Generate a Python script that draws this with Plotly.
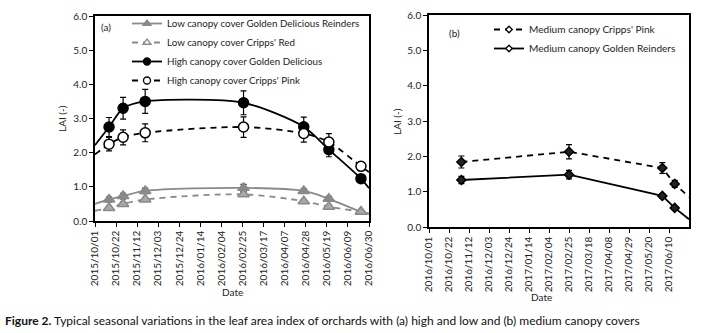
import plotly.graph_objects as go
import pandas as pd

W, H = 701, 333

# ---------------- data: panel (a) ----------------
dates_a = ["2015-10-15", "2015-10-29", "2015-11-20", "2016-02-26",
           "2016-04-26", "2016-05-21", "2016-06-22"]
high_gd = [2.75, 3.30, 3.50, 3.46, 2.76, 2.09, 1.24]
high_gd_err = [0.28, 0.32, 0.35, 0.35, 0.28, 0.21, 0.08]
high_cp = [2.25, 2.45, 2.58, 2.75, 2.56, 2.31, 1.60]
high_cp_err = [0.20, 0.22, 0.26, 0.30, 0.25, 0.25, 0.12]
low_gd = [0.63, 0.73, 0.88, 0.97, 0.88, 0.65, 0.27]
low_gd_err = [0.07, 0.08, 0.08, 0.10, 0.07, 0.07, 0.04]
low_cr = [0.38, 0.50, 0.63, 0.78, 0.58, 0.42, 0.27]
low_cr_err = [0.05, 0.05, 0.05, 0.06, 0.05, 0.05, 0.03]
# trend-line values at the axis edges (2015-10-01, 2016-06-30)
range_a = ["2015-10-01", "2016-06-30"]
high_gd_edges = [2.22, 0.96]
high_cp_edges = [1.95, 1.43]
low_gd_edges = [0.50, 0.20]
low_cr_edges = [0.30, 0.22]

# ---------------- data: panel (b) ----------------
dates_b = ["2016-11-04", "2017-02-25", "2017-06-03", "2017-06-16"]
med_cp = [1.84, 2.13, 1.67, 1.22]
med_cp_err = [0.17, 0.20, 0.15, 0.10]
med_gr = [1.33, 1.48, 0.88, 0.54]
med_gr_err = [0.10, 0.12, 0.06, 0.04]
range_b = ["2016-10-01", "2017-07-01"]
med_cp_end = 0.85
med_gr_end = 0.22

yticks = [0, 1, 2, 3, 4, 5, 6]
ticks_a = pd.date_range("2015-10-01", "2016-06-30", freq="21D")
ticks_b = pd.date_range("2016-10-01", "2017-06-10", freq="21D")

BLACK = "black"
GRAY = "#8a8a8a"
FONT = "Lato"

fig = go.Figure()


def series(xaxis, yaxis, xs, ys, errs, line_x, line_y, color, dash, shape,
           symbol, size, fill, legend_fill, name, legend, lw=1.5,
           smoothing=0.85):
    # trend line
    fig.add_trace(go.Scatter(
        x=line_x, y=line_y, mode="lines", xaxis=xaxis, yaxis=yaxis,
        line=dict(color=color, width=1.8, dash=dash, shape=shape,
                  smoothing=smoothing),
        showlegend=False, hoverinfo="skip"))
    # markers with error bars
    fig.add_trace(go.Scatter(
        x=xs, y=ys, mode="markers", xaxis=xaxis, yaxis=yaxis,
        marker=dict(symbol=symbol, size=size, color=fill,
                    line=dict(color=color, width=lw)),
        error_y=dict(type="data", array=errs, visible=True, color=BLACK,
                     thickness=1.2, width=3),
        showlegend=False))
    # legend entry
    fig.add_trace(go.Scatter(
        x=[None], y=[None], mode="lines+markers", xaxis=xaxis, yaxis=yaxis,
        name=name, legend=legend,
        line=dict(color=color, width=1.8, dash=dash),
        marker=dict(symbol=symbol, size=max(size - 3, 5), color=legend_fill,
                    line=dict(color=color, width=1.3))))


DASH = "6px,5px"

series("x", "y", dates_a, low_gd, low_gd_err,
       [range_a[0]] + dates_a + [range_a[1]],
       [low_gd_edges[0]] + low_gd + [low_gd_edges[1]],
       GRAY, "solid", "spline", "triangle-up", 10, GRAY, GRAY,
       "Low canopy cover Golden Delicious Reinders", "legend")
series("x", "y", dates_a, low_cr, low_cr_err,
       [range_a[0]] + dates_a + [range_a[1]],
       [low_cr_edges[0]] + low_cr + [low_cr_edges[1]],
       GRAY, DASH, "spline", "triangle-up", 10, "#a8a8a8", "white",
       "Low canopy cover Cripps' Red", "legend")
series("x", "y", dates_a, high_gd, high_gd_err,
       [range_a[0]] + dates_a + [range_a[1]],
       [high_gd_edges[0]] + high_gd + [high_gd_edges[1]],
       BLACK, "solid", "spline", "circle", 10, BLACK, BLACK,
       "High canopy cover Golden Delicious", "legend", smoothing=0.75)
series("x", "y", dates_a, high_cp, high_cp_err,
       [range_a[0]] + dates_a + [range_a[1]],
       [high_cp_edges[0]] + high_cp + [high_cp_edges[1]],
       BLACK, DASH, "spline", "circle", 10, "white", "white",
       "High canopy cover Cripps' Pink", "legend")

series("x2", "y2", dates_b, med_cp, med_cp_err,
       dates_b + [range_b[1]], med_cp + [med_cp_end],
       BLACK, DASH, "linear", "diamond", 7, "#222", "white",
       "Medium canopy Cripps' Pink", "legend2", lw=1.5)
series("x2", "y2", dates_b, med_gr, med_gr_err,
       dates_b + [range_b[1]], med_gr + [med_gr_end],
       BLACK, "solid", "linear", "diamond", 7, "#222", "white",
       "Medium canopy Golden Reinders", "legend2", lw=1.5)


def px_x(p):
    return p / W


def px_y(p):
    return 1 - p / H


axis_common = dict(showline=True, linecolor=BLACK, linewidth=1.5,
                   mirror=True, ticks="outside", ticklen=4, tickwidth=1,
                   tickcolor=BLACK, showgrid=False, zeroline=False,
                   automargin=False,
                   tickfont=dict(family=FONT, size=10, color="#222"))

fig.update_layout(
    width=W, height=H, margin=dict(l=0, r=0, t=0, b=0, autoexpand=False),
    paper_bgcolor="white", plot_bgcolor="white",
    font=dict(family=FONT, size=10, color="#222"),
    xaxis=dict(domain=[px_x(95), px_x(369)], anchor="y",
               range=[range_a[0], range_a[1]],
               tickvals=list(ticks_a),
               ticktext=[d.strftime("%Y/%m/%d") for d in ticks_a],
               tickangle=-90, **axis_common),
    yaxis=dict(domain=[px_y(221), px_y(16)], anchor="x", range=[0, 6],
               tickvals=yticks, ticktext=[f"{v:.1f}" for v in yticks],
               **axis_common),
    xaxis2=dict(domain=[px_x(429), px_x(689)], anchor="y2",
                range=[range_b[0], range_b[1]],
                tickvals=list(ticks_b),
                ticktext=[d.strftime("%Y/%m/%d") for d in ticks_b],
                tickangle=-90, **axis_common),
    yaxis2=dict(domain=[px_y(227), px_y(15)], anchor="x2", range=[0, 6],
                tickvals=yticks, ticktext=[f"{v:.1f}" for v in yticks],
                **axis_common),
    legend=dict(x=px_x(127), y=px_y(9), xanchor="left", yanchor="top",
                bgcolor="rgba(0,0,0,0)", font=dict(family=FONT, size=9.8),
                itemwidth=30, tracegroupgap=0),
    legend2=dict(x=px_x(489), y=px_y(15), xanchor="left", yanchor="top",
                 bgcolor="rgba(0,0,0,0)", font=dict(family=FONT, size=10.1),
                 itemwidth=30, tracegroupgap=0),
)

ann = [
    dict(text="(a)", x=px_x(99), y=px_y(27)),
    dict(text="(b)", x=px_x(447), y=px_y(33)),
    dict(text="Date", x=px_x(232), y=px_y(292), xanchor="center"),
    dict(text="Date", x=px_x(541), y=px_y(297), xanchor="center"),
    dict(text="LAI (-)", x=px_x(62), y=px_y(119), xanchor="center",
         textangle=-90),
    dict(text="LAI (-)", x=px_x(397), y=px_y(121), xanchor="center",
         textangle=-90),
]
for a in ann:
    fig.add_annotation(xref="paper", yref="paper", showarrow=False,
                       xanchor=a.get("xanchor", "left"), yanchor="middle",
                       x=a["x"], y=a["y"], text=a["text"],
                       textangle=a.get("textangle", 0),
                       font=dict(family=FONT, size=10, color="#222"))

fig.add_annotation(
    xref="paper", yref="paper", showarrow=False, xanchor="left",
    yanchor="middle", x=px_x(3), y=px_y(320),
    text="<b>Figure 2.</b> Typical seasonal variations in the leaf area index "
         "of orchards with (a) high and low and (b) medium canopy covers",
    font=dict(family=FONT, size=12, color="#111"))

fig.write_html("out.html", config={"displayModeBar": False},
               post_script="document.body.style.margin='0';"
                           "document.body.style.overflow='hidden';")
